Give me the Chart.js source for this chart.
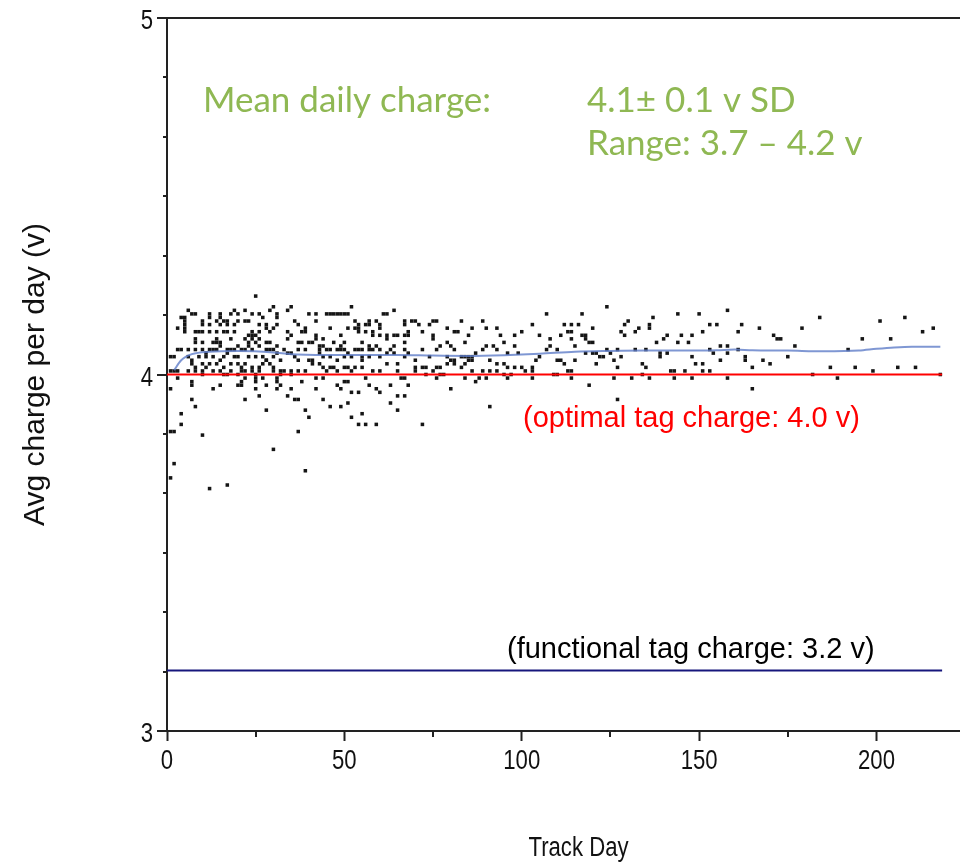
<!DOCTYPE html>
<html><head><meta charset="utf-8">
<script src="https://cdn.jsdelivr.net/npm/chart.js@4.4.1/dist/chart.umd.min.js"></script>
<style>html,body{margin:0;padding:0;overflow:hidden;background:#fff;}#wrap{width:994px;height:862px;}</style>
</head><body><div id="wrap"><canvas id="c" width="994" height="862"></canvas></div>
<script>
// ---- axes ----
const xMin = 0, xMax = 232;
const yMin = 3, yMax = 5;
const xMajorTicks = [0, 50, 100, 150, 200];
const xMinorTicks = [25, 75, 125, 175, 225];
const yMajorTicks = [3, 4, 5];
const yMinorSixths = [1, 2, 3, 4, 5, 7, 8, 9, 10, 11];
const xTitle = 'Track Day';
const yTitle = 'Avg charge per day (v)';

// ---- reference levels ----
const optimalCharge = 4.0;
const functionalCharge = 3.17;
const refLineEndDay = 218.5;

// ---- smoothed trend ----
const trendDays   = [2, 4, 7, 12, 20, 30, 35, 45, 55, 65, 75, 85, 95, 105, 115, 125, 135, 145, 155, 160, 165, 175, 185, 195, 200, 205, 210, 218];
const trendCharge = [4.012, 4.04, 4.057, 4.064, 4.066, 4.062, 4.057, 4.055, 4.055, 4.055, 4.053, 4.052, 4.054, 4.058, 4.064, 4.066, 4.067, 4.067, 4.068, 4.07, 4.068, 4.067, 4.065, 4.067, 4.072, 4.076, 4.078, 4.078];

// ---- daily average charge [track day, volts] ----
const chargeDays0to34 = [
[25,4.22],[30,4.19],[29,4.18],[34,4.18],[31,4.17],[31,4.16],[6,4.18],[7,4.17],[8,4.17],[5,4.16],[4,4.16],[5,4.15],[5,4.14],[5,4.13],[5,4.12],[3,4.13],
[12,4.17],[12,4.16],[15,4.17],[15,4.16],[18,4.17],[19,4.18],[20,4.17],[22,4.18],[24,4.17],[26,4.17],[27,4.16],
[10,4.15],[10,4.14],[12,4.14],[14,4.15],[15,4.14],[16,4.15],[17,4.15],[17,4.14],[19,4.14],[20,4.15],[22,4.15],[23,4.15],[26,4.14],[28,4.14],[28,4.13],[30,4.13],[31,4.14],
[8,4.12],[9,4.12],[10,4.12],[12,4.12],[14,4.12],[16,4.12],[17,4.12],[19,4.12],[24,4.12],[25,4.11],[24,4.11],[26,4.10],[26,4.12],[29,4.12],[34,4.12],[34,4.10],
[8,4.10],[8,4.09],[10,4.09],[14,4.10],[15,4.09],[14,4.09],[13,4.09],[15,4.08],[18,4.10],[22,4.10],[23,4.11],[23,4.09],[24,4.10],[25,4.09],[28,4.09],[29,4.09],[31,4.08],
[3,4.07],[4,4.07],[6,4.07],[8,4.07],[10,4.07],[11,4.06],[12,4.07],[13,4.07],[14,4.07],[17,4.07],[17,4.06],[18,4.07],[19,4.07],[20,4.08],[21,4.07],[22,4.07],[23,4.08],[24,4.07],[26,4.08],[28,4.07],[29,4.07],[30,4.07],[31,4.06],[33,4.07],[34,4.06],
[1,4.05],[2,4.05],[6,4.05],[7,4.04],[9,4.05],[11,4.05],[13,4.05],[15,4.04],[16,4.05],[19,4.05],[20,4.05],[23,4.05],[25,4.05],[27,4.05],[28,4.04],[30,4.05],
[7,4.03],[8,4.02],[10,4.03],[11,4.02],[12,4.03],[14,4.03],[16,4.02],[18,4.03],[20,4.03],[21,4.02],[22,4.03],[24,4.02],[26,4.02],[27,4.03],[28,4.04],[29,4.03],[30,4.02],[32,4.04],
[1,4.01],[2,4.01],[3,4.01],[6,4.01],[8,4.01],[10,4.01],[13,4.01],[15,4.01],[17,4.00],[18,4.01],[20,4.00],[21,4.01],[22,4.01],[24,4.01],[25,4.00],[26,4.01],[30,4.01],[32,4.01],[33,4.01],
[3,3.99],[10,4.00],[16,4.00],[20,3.97],[21,3.97],[21,3.98],[22,3.99],[25,3.99],[25,3.98],[25,3.96],[27,3.99],[28,3.97],[31,3.99],[31,3.98],[32,4.00],[32,3.97],[7,3.98],[7,3.97],[15,3.97],[13,3.96],
[22,3.93],[26,3.94],[31,3.96],[34,3.94],[1,3.96],[7,3.93],[8,3.91],[4,3.89],[4,3.86],[1,3.84],[2,3.84],[10,3.83],[28,3.90],[30,3.79],[2,3.75],[1,3.71],[12,3.68],[17,3.69]
];
const chargeDays35to70 = [
[35,4.19],[40,4.17],[42,4.17],[45,4.17],[46,4.17],[47,4.17],[48,4.17],[49,4.17],[50,4.17],[51,4.17],[52,4.19],[36,4.15],[37,4.14],[42,4.15],[46,4.13],[51,4.13],[53,4.15],[54,4.14],[54,4.13],[56,4.14],[57,4.15],[57,4.14],[59,4.15],[60,4.14],[61,4.17],[62,4.17],[64,4.18],[67,4.15],[67,4.14],[69,4.15],[70,4.15],
[35,4.11],[38,4.12],[39,4.12],[39,4.13],[42,4.11],[42,4.10],[44,4.10],[49,4.11],[53,4.13],[54,4.12],[56,4.12],[58,4.12],[58,4.11],[60,4.13],[60,4.11],[62,4.11],[62,4.10],[64,4.11],[65,4.11],[67,4.11],[68,4.11],[68,4.12],[67,4.09],
[37,4.09],[38,4.09],[40,4.09],[41,4.09],[43,4.08],[44,4.08],[47,4.09],[49,4.08],[50,4.09],[55,4.09],[57,4.08],[57,4.07],[59,4.08],[60,4.07],[67,4.07],
[35,4.06],[37,4.07],[39,4.07],[43,4.07],[43,4.06],[45,4.07],[46,4.07],[48,4.07],[49,4.07],[50,4.07],[51,4.06],[53,4.07],[54,4.07],[55,4.07],[58,4.07],[62,4.06],[63,4.07],[64,4.06],[64,4.08],[68,4.06],
[36,4.05],[37,4.04],[40,4.04],[41,4.03],[44,4.05],[46,4.05],[48,4.04],[50,4.05],[52,4.05],[55,4.04],[55,4.05],[57,4.05],[60,4.05],[62,4.03],[65,4.03],[67,4.05],[70,4.04],
[35,4.01],[35,4.00],[37,4.01],[39,4.01],[41,4.04],[43,4.03],[44,4.02],[45,4.01],[46,4.02],[47,4.02],[48,4.01],[50,4.02],[51,4.02],[52,4.01],[53,4.02],[55,4.02],[58,4.01],[60,4.01],[65,4.01],[66,3.99],[67,3.99],[70,4.02],[70,4.01],
[35,3.96],[38,3.98],[42,3.99],[44,3.99],[42,3.96],[48,3.97],[50,3.98],[49,3.96],[51,3.98],[52,3.95],[54,3.95],[56,3.99],[57,3.97],[59,3.96],[60,3.95],[63,3.97],[68,3.97],
[36,3.93],[37,3.93],[65,3.94],[67,3.94],[44,3.93],[46,3.91],[49,3.91],[51,3.92],[63,3.92],[65,3.90],[39,3.90],[40,3.88],[52,3.88],[55,3.89],[54,3.86],[56,3.86],[59,3.86],[37,3.84],[39,3.73]
];
const chargeDays71to107 = [
[71,4.14],[75,4.15],[76,4.15],[74,4.14],[72,4.12],[75,4.11],[75,4.10],[79,4.13],[81,4.12],[82,4.12],[83,4.15],[85,4.11],[86,4.13],[89,4.15],[90,4.13],[93,4.13],[94,4.11],[98,4.11],[100,4.12],[103,4.14],[105,4.11],[107,4.17],
[72,4.07],[76,4.07],[77,4.08],[79,4.09],[80,4.08],[81,4.07],[84,4.09],[87,4.06],[89,4.07],[90,4.08],[92,4.08],[93,4.07],[95,4.09],[98,4.08],[99,4.06],[96,4.06],
[74,4.05],[79,4.05],[80,4.04],[81,4.04],[83,4.05],[84,4.05],[85,4.04],[85,4.05],[86,4.05],[86,4.04],[91,4.04],[93,4.03],[95,4.03],[105,4.05],[104,4.04],[107,4.07],
[72,4.02],[73,4.02],[75,4.01],[76,4.02],[77,4.02],[79,4.03],[81,4.03],[83,4.02],[84,4.03],[86,4.01],[89,4.01],[91,4.01],[93,4.01],[96,4.02],[98,4.02],[100,4.02],[101,4.01],[103,4.02],[103,4.01],[103,3.99],
[73,4.00],[76,3.99],[77,4.00],[78,4.00],[84,3.99],[87,3.98],[88,3.99],[90,3.99],[95,4.00],[96,3.99],[97,4.00],[80,3.96],[91,3.91],[72,3.86]
];
const chargeDays108to144 = [
[117,4.17],[112,4.14],[114,4.14],[116,4.14],[113,4.12],[114,4.12],[111,4.11],[117,4.11],[118,4.11],[120,4.13],[124,4.19],[130,4.15],[129,4.14],[128,4.12],[129,4.11],[132,4.12],[133,4.13],[136,4.14],[136,4.13],[137,4.16],[138,4.09],[140,4.10],[141,4.11],[144,4.17],[144,4.09],
[108,4.10],[108,4.08],[110,4.07],[114,4.10],[115,4.08],[118,4.10],[119,4.09],[120,4.09],[118,4.06],[120,4.06],[121,4.06],[122,4.05],[123,4.05],[124,4.07],[125,4.06],[127,4.07],[128,4.05],[132,4.07],[135,4.07],[139,4.06],[139,4.05],[141,4.06],
[110,4.04],[111,4.04],[112,4.03],[115,4.04],[114,4.01],[113,4.01],[121,4.03],[126,4.04],[127,4.02],[134,4.03],[135,4.02],[142,4.01],[143,4.01],
[109,4.00],[110,4.00],[114,3.99],[126,3.99],[131,3.99],[134,4.00],[136,3.99],[143,3.99],[119,3.97],[127,3.93]
];
const chargeDays145to218 = [
[150,4.17],[153,4.14],[155,4.14],[158,4.18],[162,4.14],[161,4.12],[167,4.13],[171,4.11],[172,4.10],[173,4.10],[179,4.13],[145,4.11],[148,4.11],[151,4.12],[147,4.09],[156,4.08],[158,4.08],[161,4.07],[158,4.06],[153,4.07],[154,4.06],[156,4.04],[148,4.05],[149,4.03],[151,4.03],[153,4.01],[146,4.01],[151,4.01],[148,3.99],[158,3.99],[163,4.05],[163,4.04],[165,4.02],[168,4.04],[170,4.03],[175,4.05],[177,4.08],[165,3.96],[182,4.00],
[184,4.16],[201,4.15],[208,4.16],[213,4.12],[216,4.13],[196,4.10],[204,4.10],[192,4.07],[187,4.02],[194,4.02],[199,4.01],[206,4.02],[211,4.02],[189,3.99],[218,4.00]
];

const allDaily = [].concat(chargeDays0to34, chargeDays35to70, chargeDays71to107, chargeDays108to144, chargeDays145to218)
  .map(p => ({x: p[0], y: p[1]}));

const AXIS = '#222';
const SANS = "'Liberation Sans', Arial, sans-serif";
const SQUEEZE = 0.82;   // the reference's horizontal labels are horizontally compressed

function squeezedText(ctx, txt, x, y, align) {
  ctx.save();
  ctx.translate(x, y);
  ctx.scale(SQUEEZE, 1);
  ctx.textAlign = align;
  ctx.fillText(txt, 0, 0);
  ctx.restore();
}

const decorPlugin = {
  id: 'decor',
  afterDraw(chart) {
    const ctx = chart.ctx, xs = chart.scales.x, ys = chart.scales.y;
    const ca = chart.chartArea;
    ctx.save();
    ctx.strokeStyle = AXIS; ctx.lineWidth = 2;
    yMinorSixths.forEach(k => {
      const py = Math.round(ys.getPixelForValue(yMin + k / 6));
      ctx.beginPath(); ctx.moveTo(ca.left - 4, py); ctx.lineTo(ca.left, py); ctx.stroke();
    });
    xMinorTicks.forEach(v => {
      const px = Math.round(xs.getPixelForValue(v));
      ctx.beginPath(); ctx.moveTo(px, ca.bottom); ctx.lineTo(px, ca.bottom + 6); ctx.stroke();
    });
    // tick labels and x title (compressed Arial look)
    ctx.fillStyle = '#111';
    ctx.textBaseline = 'alphabetic';
    ctx.font = '27px ' + SANS;
    yMajorTicks.forEach(v => {
      squeezedText(ctx, String(v), ca.left - 14, ys.getPixelForValue(v) + 11, 'right');
    });
    xMajorTicks.forEach(v => {
      squeezedText(ctx, String(v), xs.getPixelForValue(v), ca.bottom + 38, 'center');
    });
    squeezedText(ctx, xTitle, (xs.left + xs.right) / 2, 856, 'center');

    // annotations
    ctx.textAlign = 'left';
    ctx.fillStyle = '#8fb853';
    ctx.font = "35px Lato, 'Open Sans', sans-serif";
    ctx.fillText('Mean daily charge:', 203, 112);
    ctx.fillText('4.1\u00b1 0.1 v SD', 587, 112);
    ctx.fillText('Range: 3.7 \u2013 4.2 v', 587, 155);
    ctx.font = '29px ' + SANS;
    ctx.fillStyle = '#ff0000';
    ctx.fillText('(optimal tag charge: 4.0 v)', 523, 427);
    ctx.fillStyle = '#000';
    ctx.fillText('(functional tag charge: 3.2 v)', 507, 658);
    ctx.restore();
  }
};

new Chart(document.getElementById('c'), {
  data: {
    datasets: [
      { type: 'line', label: 'optimal', data: [{x: xMin, y: optimalCharge}, {x: refLineEndDay, y: optimalCharge}],
        borderColor: '#ff0000', borderWidth: 2, pointRadius: 0, order: 1 },
      { type: 'line', label: 'functional', data: [{x: xMin, y: functionalCharge}, {x: refLineEndDay, y: functionalCharge}],
        borderColor: '#16167c', borderWidth: 2, pointRadius: 0, order: 1 },
      { type: 'line', label: 'trend', data: trendDays.map((d, i) => ({x: d, y: trendCharge[i]})),
        borderColor: 'rgba(95,125,200,0.8)', borderWidth: 2, pointRadius: 0, cubicInterpolationMode: 'monotone', order: 2 },
      { type: 'scatter', label: 'daily', data: allDaily,
        backgroundColor: '#151515', borderColor: '#151515', borderWidth: 0, pointStyle: 'rect', pointRadius: 2.5, order: 3 }
    ]
  },
  options: {
    responsive: false, animation: false, devicePixelRatio: 1,
    layout: { padding: { top: 18, right: 0, bottom: 0, left: 0 } },
    plugins: { legend: { display: false }, tooltip: { enabled: false } },
    scales: {
      x: {
        type: 'linear', min: xMin, max: xMax,
        afterFit: s => { s.height = 131; },
        afterBuildTicks: s => { s.ticks = xMajorTicks.map(v => ({value: v})); },
        border: { display: true, color: AXIS, width: 2 },
        grid: { display: true, drawOnChartArea: false, tickLength: 10, tickColor: AXIS, tickWidth: 2 },
        ticks: { display: false },
        title: { display: false }
      },
      y: {
        type: 'linear', min: yMin, max: yMax,
        afterFit: s => { s.width = 167; },
        afterBuildTicks: s => { s.ticks = yMajorTicks.map(v => ({value: v})); },
        border: { display: true, color: AXIS, width: 2 },
        grid: { display: true, drawOnChartArea: true, tickLength: 10, tickColor: AXIS, tickWidth: 2, lineWidth: 2,
                color: c => (c.tick && c.tick.value === yMax) ? AXIS : 'rgba(0,0,0,0)' },
        ticks: { display: false },
        title: { display: true, text: yTitle, color: '#111', font: { family: SANS, size: 30 }, padding: { top: 18, bottom: 0 } }
      }
    }
  },
  plugins: [decorPlugin]
});
</script></body></html>
